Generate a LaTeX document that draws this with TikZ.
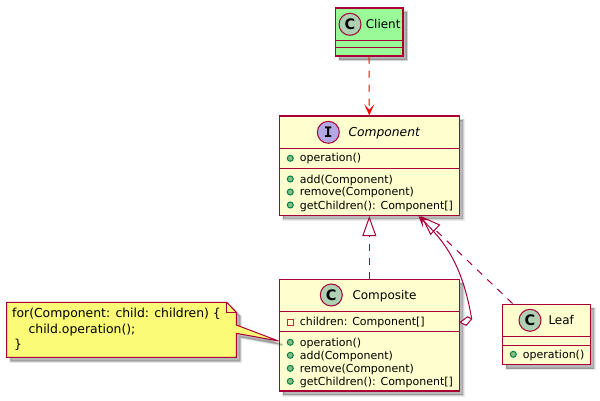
\documentclass[tikz,border=0pt]{standalone}
\usepackage{fontspec}
\setmainfont{DejaVu Sans}
\setmonofont{DejaVu Sans Mono}
\usetikzlibrary{arrows.meta,calc}
\definecolor{umlline}{HTML}{A80036}
\definecolor{umlfill}{HTML}{FEFECE}
\definecolor{clientfill}{HTML}{98FB98}
\definecolor{notefill}{HTML}{FBFB77}
\definecolor{spotc}{HTML}{ADD1B2}
\definecolor{spoti}{HTML}{B4A7E5}
\definecolor{pubfill}{HTML}{84BE84}
\definecolor{publine}{HTML}{038048}
\definecolor{privline}{HTML}{C82930}
\tikzset{
  x=1pt,y=-1pt,
  softshadow/.style={
    preaction={draw=black,fill=black,line width=3pt,draw opacity=.08,fill opacity=.08,transform canvas={shift={(4pt,-4pt)}}},
    preaction={draw=black,fill=black,line width=1.5pt,draw opacity=.10,fill opacity=.10,transform canvas={shift={(4pt,-4pt)}}},
    preaction={draw=none,fill=black,fill opacity=.12,transform canvas={shift={(4pt,-4pt)}}}},
  umlbox/.style={rectangle,draw=umlline,fill=umlfill,line width=1.5pt,inner sep=0pt,softshadow},
  divider/.style={draw=umlline,line width=1pt},
  spotnode/.style={circle,draw=umlline,line width=1pt,minimum size=22pt,inner sep=0pt,font=\fontsize{14.5}{15}\selectfont\bfseries,text=black},
  classname/.style={anchor=base west,inner sep=0pt,font=\fontsize{12}{14}\selectfont},
  member/.style={anchor=base west,inner sep=0pt,font=\fontsize{11}{12}\selectfont},
  pub/.style={circle,draw=publine,fill=pubfill,line width=1pt,minimum size=6pt,inner sep=0pt},
  priv/.style={rectangle,draw=privline,line width=1pt,minimum size=6pt,inner sep=0pt},
  dep/.style={draw=red,line width=1pt,dash pattern=on 7pt off 7pt},
  real/.style={draw=umlline,line width=1pt,dash pattern=on 7pt off 7pt},
  agg/.style={draw=umlline,line width=1pt},
}
\begin{document}
\begin{tikzpicture}
\useasboundingbox[fill=white] (0,0) rectangle (600,401);
% client
\node[umlbox,fill=clientfill,minimum width=67.5pt,minimum height=48pt] (client) at (369,32) {};
\draw[divider] (client.west |- 0,40.5) -- (client.east |- 0,40.5);
\draw[divider] (client.west |- 0,48) -- (client.east |- 0,48);
\node[spotnode,fill=spotc] (clientspot) at (350,24.3) {C};
\node[classname] (clientname) at (365.6,28.4) {Client};
% component
\node[umlbox,minimum width=180pt,minimum height=99.3pt] (component) at (369.3,165.7) {};
\draw[divider] (component.west |- 0,148.3) -- (component.east |- 0,148.3);
\draw[divider] (component.west |- 0,168.7) -- (component.east |- 0,168.7);
\node[spotnode,fill=spoti,font=\fontsize{14.5}{15}\selectfont\ttfamily\bfseries] (componentspot) at (328.3,132.3) {I};
\node[classname,font=\fontsize{12.3}{14}\selectfont\itshape] (componentname) at (348.3,136.4) {Component};
\node[pub] (c1b) at (290.3,158.3) {};
\node[member] (c1) at (299.6,162) {operation()};
\node[pub] (c2b) at (290.3,179) {};
\node[member] (c2) at (299.6,183) {add(Component)};
\node[pub] (c3b) at (290.3,192) {};
\node[member] (c3) at (299.6,196) {remove(Component)};
\node[pub] (c4b) at (290.3,205) {};
\node[member] (c4) at (299.6,209) {getChildren(): Component[]};
% composite
\node[umlbox,minimum width=180pt,minimum height=111.7pt] (composite) at (369.3,335.2) {};
\draw[divider] (composite.west |- 0,311.7) -- (composite.east |- 0,311.7);
\draw[divider] (composite.west |- 0,331) -- (composite.east |- 0,331);
\node[spotnode,fill=spotc] (compositespot) at (331.3,295) {C};
\node[classname] (compositename) at (352.3,299.2) {Composite};
\node[priv] (m0b) at (290.3,322) {};
\node[member] (m0) at (299.6,325.5) {children: Component[]};
\node[pub] (m1b) at (290.3,342.3) {};
\node[member] (m1) at (299.6,346) {operation()};
\node[pub] (m2b) at (290.3,355.3) {};
\node[member] (m2) at (299.6,359) {add(Component)};
\node[pub] (m3b) at (290.3,368.3) {};
\node[member] (m3) at (299.6,372) {remove(Component)};
\node[pub] (m4b) at (290.3,381.3) {};
\node[member] (m4) at (299.6,385) {getChildren(): Component[]};
% leaf
\node[umlbox,minimum width=88pt,minimum height=60.4pt] (leaf) at (546.3,334.5) {};
\draw[divider] (leaf.west |- 0,336.3) -- (leaf.east |- 0,336.3);
\draw[divider] (leaf.west |- 0,345) -- (leaf.east |- 0,345);
\node[spotnode,fill=spotc] (leafspot) at (530,320.3) {C};
\node[classname] (leafname) at (548.3,324.5) {Leaf};
\node[pub] (l1b) at (513.3,354.3) {};
\node[member] (l1) at (522.7,358) {operation()};
% note
\draw[draw=umlline,fill=notefill,line width=1pt,line join=miter,softshadow]
  (6.7,302.3) -- (226.7,302.3) -- (236.3,312.3) -- (236.3,325) -- (composite.west |- 0,341) -- (236.3,333.3)
  -- (236.3,357.3) -- (6.7,357.3) -- cycle;
\draw[draw=umlline,line width=1pt] (226.7,302.3) -- (226.7,312.3) -- (236.3,312.3);
\node[anchor=north west,inner sep=0pt,align=left,font=\fontsize{12.4}{15.5}\selectfont] (note) at (12,308.3)
  {for(Component: child: children) \{\\\hspace*{16.4pt}child.operation();\\\hspace*{1.8pt}\}};
% connectors
\draw[dep,-{Stealth[length=11pt,width=10pt,inset=5.5pt,red]}] (client.south) -- (component.north);
\draw[real,-{Triangle[open,length=20pt,width=14pt,umlline,fill=white]}] (composite.north) -- (component.south);
\draw[real,-{Triangle[open,length=20pt,width=14pt,umlline,fill=white]}] ([xshift=11pt]leaf.north west) -- ([xshift=142.4pt]component.south west);
\coordinate (aggend) at (471.7,319);
\draw[agg,-{Stealth[length=11pt,width=10pt,inset=5.5pt,umlline]}] (aggend) .. controls (462,262) and (443,240) .. ([xshift=140pt]component.south west);
\draw[agg,fill=white,line join=miter] (460.2,322.3) -- (467.5,316.8) -- (aggend) -- (466.2,325.3) -- cycle;
\end{tikzpicture}
\end{document}
